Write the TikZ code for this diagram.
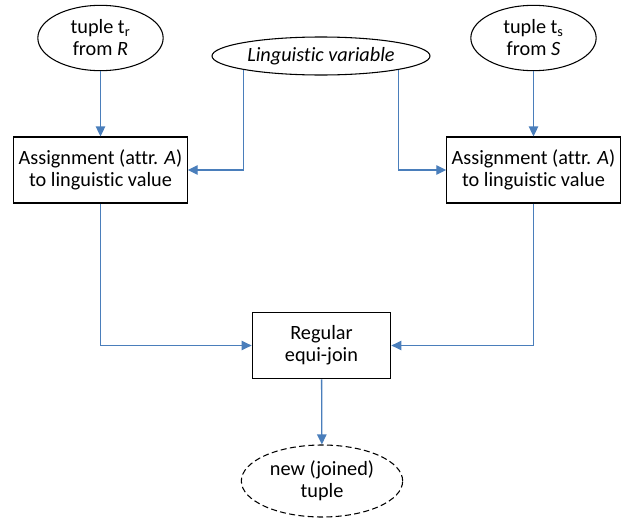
\documentclass[tikz,border=0pt]{standalone}
\usepackage{fontspec}
\setmainfont{Carlito}[Ligatures={NoCommon}]
\usepackage{xcolor}
\usetikzlibrary{arrows.meta, shapes.geometric}
\definecolor{linkblue}{HTML}{4A7EBB}

\begin{document}
\begin{tikzpicture}[
  x=0.75pt, y=-0.75pt,
  every node/.style={font=\fontsize{15.2}{16.5}\selectfont, align=center},
  oval/.style={draw, ellipse, line width=0.8pt, inner sep=0pt},
  procbox/.style={draw, rectangle, line width=0.8pt, minimum width=130pt, minimum height=49.5pt},
  flow/.style={-{Triangle[length=7.5pt,width=7pt]}, draw=linkblue, line width=1pt}
]
\useasboundingbox (0,0) rectangle (625,521);

\node[oval, minimum width=94pt, minimum height=49pt] (tr) at (100.5,38) {tuple t\textsubscript{r}\\from \textit{R}};
\node[oval, minimum width=94pt, minimum height=49pt] (ts) at (533.5,38) {tuple t\textsubscript{s}\\from \textit{S}};
\node[oval, minimum width=163.5pt, minimum height=28.5pt] (ling) at (321,56) {\textit{Linguistic variable}};

\node[procbox] (la) at (100.5,170) {Assignment (attr. \textit{A})\\to linguistic value};
\node[procbox] (ra) at (533.5,170) {Assignment (attr. \textit{A})\\to linguistic value};

\node[procbox, minimum width=104pt, minimum height=50pt] (join) at (321.5,345.5) {Regular\\equi-join};
\node[oval, dashed, dash pattern=on 4.5pt off 2.5pt, minimum width=121pt, minimum height=54pt] (new) at (322,481) {new (joined)\\tuple};

\draw[flow] (tr) -- (la);
\draw[flow] (ts) -- (ra);
\draw[flow] (ling.south west) |- (la.east);
\draw[flow] (ling.south east) |- (ra.west);
\draw[flow] (la.south) |- (join.west);
\draw[flow] (ra.south) |- (join.east);
\draw[flow] (join) -- (new);
\end{tikzpicture}
\end{document}
